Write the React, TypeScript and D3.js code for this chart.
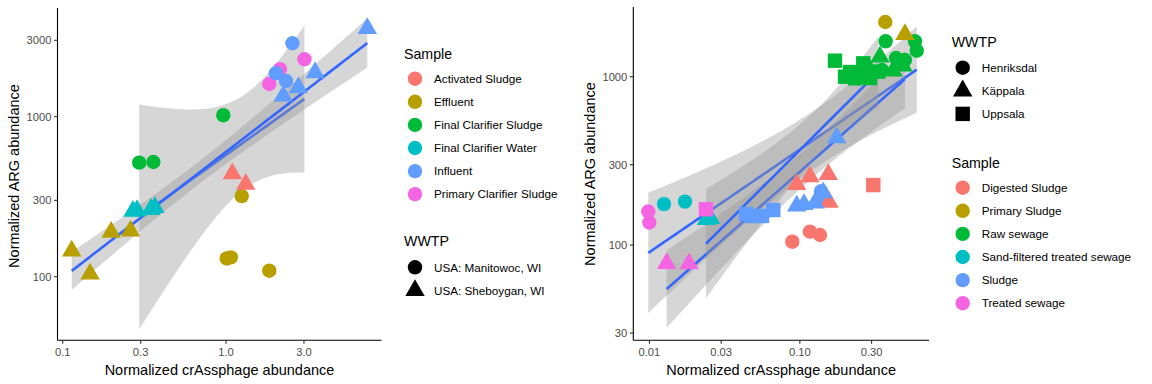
import React from "react";
import * as d3 from "d3";

const COLORS = ["#F8766D", "#B79F00", "#00BA38", "#00BFC4", "#619CFF", "#F564E3"];

// ---------- left panel data ----------
const leftSampleNames = [
  "Activated Sludge",
  "Effluent",
  "Final Clarifier Sludge",
  "Final Clarifier Water",
  "Influent",
  "Primary Clarifier Sludge",
];
const leftPlantNames = ["USA: Manitowoc, WI", "USA: Sheboygan, WI"];
const leftPlantShapes = ["circle", "triangle"];
// [sample, plant, crAssphage, ARG]
const leftPoints: [number, number, number, number][] = [
  [5, 0, 3.02, 2284],
  [5, 0, 2.14, 1978],
  [5, 0, 1.84, 1600],
  [4, 0, 2.55, 2875],
  [4, 0, 2.02, 1867],
  [4, 0, 2.33, 1672],
  [2, 0, 0.962, 1021],
  [2, 0, 0.294, 516],
  [2, 0, 0.359, 521],
  [1, 0, 1.248, 319],
  [1, 0, 1.01, 130],
  [1, 0, 1.07, 132],
  [1, 0, 1.84, 109],
  [4, 1, 7.33, 3564],
  [4, 1, 3.51, 1887],
  [4, 1, 2.77, 1520],
  [4, 1, 2.24, 1349],
  [0, 1, 1.093, 440],
  [0, 1, 1.32, 378],
  [3, 1, 0.269, 257],
  [3, 1, 0.285, 259],
  [3, 1, 0.347, 263],
  [3, 1, 0.367, 271],
  [1, 1, 0.1135, 145],
  [1, 1, 0.147, 104],
  [1, 1, 0.198, 190],
  [1, 1, 0.26, 193],
];
const leftXTicks = [0.1, 0.3, 1, 3];
const leftXTickLabels = ["0.1", "0.3", "1.0", "3.0"];
const leftYTicks = [100, 300, 1000, 3000];
const leftYTickLabels = ["100", "300", "1000", "3000"];
const leftXDomain = [Math.pow(10, -1.032), Math.pow(10, 0.952)];
const leftYDomain = [Math.pow(10, 1.6025), Math.pow(10, 3.679)];

// ---------- right panel data ----------
const rightSampleNames = [
  "Digested Sludge",
  "Primary Sludge",
  "Raw sewage",
  "Sand-filtered treated sewage",
  "Sludge",
  "Treated sewage",
];
const rightPlantNames = ["Henriksdal", "Käppala", "Uppsala"];
const rightPlantShapes = ["circle", "triangle", "square"];
const rightPoints: [number, number, number, number][] = [
  [1, 0, 0.37, 2113],
  [2, 0, 0.372, 1623],
  [2, 0, 0.583, 1623],
  [2, 0, 0.599, 1427],
  [2, 0, 0.436, 1291],
  [2, 0, 0.5, 1256],
  [2, 0, 0.284, 1010],
  [2, 0, 0.352, 1096],
  [3, 0, 0.0125, 175],
  [3, 0, 0.01724, 181],
  [5, 0, 0.00983, 158],
  [5, 0, 0.00998, 136],
  [0, 0, 0.0891, 104.6],
  [0, 0, 0.1168, 120],
  [0, 0, 0.1362, 114.7],
  [4, 0, 0.1383, 209],
  [4, 0, 0.1426, 190],
  [5, 1, 0.01302, 77.7],
  [5, 1, 0.01833, 77.4],
  [3, 1, 0.02395, 142],
  [3, 1, 0.02547, 143.8],
  [0, 1, 0.0953, 229],
  [0, 1, 0.1168, 254.6],
  [0, 1, 0.1546, 262.8],
  [0, 1, 0.1563, 180],
  [4, 1, 0.1758, 434],
  [4, 1, 0.0953, 170.5],
  [4, 1, 0.1066, 174],
  [4, 1, 0.1262, 178],
  [4, 1, 0.1432, 204.6],
  [2, 1, 0.341, 1309],
  [2, 1, 0.4164, 1081],
  [2, 1, 0.2927, 1096],
  [2, 1, 0.4853, 1158],
  [1, 1, 0.5, 1784],
  [5, 2, 0.02377, 163],
  [4, 2, 0.04386, 152.8],
  [4, 2, 0.04808, 148.7],
  [4, 2, 0.05604, 148.7],
  [4, 2, 0.06662, 161.4],
  [0, 2, 0.308, 227],
  [2, 2, 0.1713, 1245],
  [2, 2, 0.1997, 1000],
  [2, 2, 0.2327, 978],
  [2, 2, 0.2642, 1201],
  [2, 2, 0.2642, 1000],
  [2, 2, 0.3325, 1071],
  [2, 2, 0.2156, 1066],
  [2, 2, 0.2927, 982],
];
const rightXTicks = [0.01, 0.03, 0.1, 0.3];
const rightXTickLabels = ["0.01", "0.03", "0.10", "0.30"];
const rightYTicks = [30, 100, 300, 1000];
const rightYTickLabels = ["30", "100", "300", "1000"];
const rightXDomain = [Math.pow(10, -2.1072), Math.pow(10, -0.1412)];
const rightYDomain = [Math.pow(10, 1.4337), Math.pow(10, 3.4141)];

const FONT = "'Liberation Sans', Arial, Helvetica, sans-serif";
const PT_R = 7.2;

function tQuantile975(df: number) {
  const z = 1.959964;
  const g1 = (z ** 3 + z) / 4;
  const g2 = (5 * z ** 5 + 16 * z ** 3 + 3 * z) / 96;
  const g3 = (3 * z ** 7 + 19 * z ** 5 + 17 * z ** 3 - 15 * z) / 384;
  const g4 = (79 * z ** 9 + 776 * z ** 7 + 1482 * z ** 5 - 1920 * z ** 3 - 945 * z) / 92160;
  return z + g1 / df + g2 / df ** 2 + g3 / df ** 3 + g4 / df ** 4;
}

function fitGroup(pts: [number, number, number, number][]) {
  const xs = pts.map((p) => Math.log10(p[2]));
  const ys = pts.map((p) => Math.log10(p[3]));
  const n = xs.length;
  const xbar = d3.mean(xs)!;
  const ybar = d3.mean(ys)!;
  let sxx = 0, sxy = 0;
  xs.forEach((x, i) => {
    sxx += (x - xbar) ** 2;
    sxy += (x - xbar) * (ys[i] - ybar);
  });
  const b = sxy / sxx;
  const a = ybar - b * xbar;
  let sse = 0;
  xs.forEach((x, i) => (sse += (ys[i] - (a + b * x)) ** 2));
  const s = Math.sqrt(sse / (n - 2));
  const t = tQuantile975(n - 2);
  const [x0, x1] = d3.extent(xs) as [number, number];
  const out: { x: number; y: number; lo: number; hi: number }[] = [];
  for (let i = 0; i < 80; i++) {
    const lx = x0 + ((x1 - x0) * i) / 79;
    const yh = a + b * lx;
    const se = s * Math.sqrt(1 / n + (lx - xbar) ** 2 / sxx);
    out.push({ x: Math.pow(10, lx), y: Math.pow(10, yh), lo: Math.pow(10, yh - t * se), hi: Math.pow(10, yh + t * se) });
  }
  return out;
}

function Shape({ shape, x, y, r, fill }: { shape: string; x: number; y: number; r: number; fill: string }) {
  if (shape === "circle") return <circle cx={x} cy={y} r={r} fill={fill} />;
  if (shape === "triangle") {
    const d = `M${x},${y - 1.555 * r}L${x + 1.347 * r},${y + 0.7776 * r}L${x - 1.347 * r},${y + 0.7776 * r}Z`;
    return <path d={d} fill={fill} />;
  }
  return <rect x={x - r} y={y - r} width={2 * r} height={2 * r} fill={fill} />;
}

type PanelProps = {
  id: string;
  points: [number, number, number, number][];
  shapes: string[];
  nPlants: number;
  xDomain: number[];
  yDomain: number[];
  xRange: [number, number];
  yRange: [number, number];
  xTicks: number[];
  xTickLabels: string[];
  yTicks: number[];
  yTickLabels: string[];
  yTitleX: number;
  yTitleY: number;
};

function Panel(p: PanelProps) {
  const x = d3.scaleLog().domain(p.xDomain).range(p.xRange);
  const y = d3.scaleLog().domain(p.yDomain).range(p.yRange);
  const fits = d3.range(p.nPlants).map((g) => fitGroup(p.points.filter((q) => q[1] === g)));
  const area = d3
    .area<{ x: number; lo: number; hi: number }>()
    .x((d) => x(d.x))
    .y0((d) => y(d.lo))
    .y1((d) => y(d.hi));
  const line = d3
    .line<{ x: number; y: number }>()
    .x((d) => x(d.x))
    .y((d) => y(d.y));
  const [xl, xr] = p.xRange;
  const [yb, yt] = p.yRange;
  return (
    <g>
      <defs>
        <clipPath id={p.id}>
          <rect x={xl} y={yt} width={xr - xl} height={yb - yt} />
        </clipPath>
      </defs>
      <g clipPath={`url(#${p.id})`}>
        {fits.map((f, i) => (
          <g key={i}>
            <path d={area(f)!} fill="#999999" fillOpacity={0.4} />
            <path d={line(f)!} fill="none" stroke="#3366FF" strokeWidth={2.6} />
          </g>
        ))}
        {p.points.map((q, i) => (
          <Shape key={i} shape={p.shapes[q[1]]} x={x(q[2])} y={y(q[3])} r={PT_R} fill={COLORS[q[0]]} />
        ))}
      </g>
      {/* axes */}
      <line x1={xl} x2={xr} y1={yb} y2={yb} stroke="#000" strokeWidth={1.1} />
      <line x1={xl} x2={xl} y1={yt} y2={yb} stroke="#000" strokeWidth={1.1} />
      {p.xTicks.map((t, i) => (
        <g key={i}>
          <line x1={x(t)} x2={x(t)} y1={yb} y2={yb + 3.5} stroke="#333" strokeWidth={1.1} />
          <text x={x(t)} y={yb + 15.5} textAnchor="middle" fontSize={11.2} fill="#4D4D4D" fontFamily={FONT}>
            {p.xTickLabels[i]}
          </text>
        </g>
      ))}
      {p.yTicks.map((t, i) => (
        <g key={i}>
          <line x1={xl - 3.5} x2={xl} y1={y(t)} y2={y(t)} stroke="#333" strokeWidth={1.1} />
          <text x={xl - 6} y={y(t) + 4} textAnchor="end" fontSize={11.2} fill="#4D4D4D" fontFamily={FONT}>
            {p.yTickLabels[i]}
          </text>
        </g>
      ))}
      <text x={(xl + xr) / 2} y={375} textAnchor="middle" fontSize={14.5} fill="#000" fontFamily={FONT}>
        Normalized crAssphage abundance
      </text>
      <text
        transform={`translate(${p.yTitleX},${p.yTitleY}) rotate(-90)`}
        textAnchor="middle"
        fontSize={14.5}
        fill="#000"
        fontFamily={FONT}
      >
        Normalized ARG abundance
      </text>
    </g>
  );
}

function Legend({
  x,
  title,
  titleY,
  firstY,
  labels,
  colors,
  shapes,
}: {
  x: number;
  title: string;
  titleY: number;
  firstY: number;
  labels: string[];
  colors: string[];
  shapes: string[];
}) {
  return (
    <g>
      <text x={x} y={titleY} fontSize={14.2} fill="#000" fontFamily={FONT}>
        {title}
      </text>
      {labels.map((l, i) => {
        const cy = firstY + i * 23.1;
        return (
          <g key={i}>
            <Shape shape={shapes[i]} x={x + 11} y={cy} r={PT_R} fill={colors[i]} />
            <text x={x + 30} y={cy + 4.2} fontSize={11.7} fill="#000" fontFamily={FONT}>
              {l}
            </text>
          </g>
        );
      })}
    </g>
  );
}

export default function App() {
  return (
    <svg
      width={1152}
      height={384}
      style={{ position: "absolute", left: 0, top: 0, background: "#fff" }}
    >
      <rect width={1152} height={384} fill="#fff" />
      <Panel
        id="clipL"
        points={leftPoints}
        shapes={leftPlantShapes}
        nPlants={2}
        xDomain={leftXDomain}
        yDomain={leftYDomain}
        xRange={[57.5, 381.5]}
        yRange={[340.3, 8]}
        xTicks={leftXTicks}
        xTickLabels={leftXTickLabels}
        yTicks={leftYTicks}
        yTickLabels={leftYTickLabels}
        yTitleX={19}
        yTitleY={176}
      />
      <Panel
        id="clipR"
        points={rightPoints}
        shapes={rightPlantShapes}
        nPlants={3}
        xDomain={rightXDomain}
        yDomain={rightYDomain}
        xRange={[633.3, 929]}
        yRange={[340.3, 7]}
        xTicks={rightXTicks}
        xTickLabels={rightXTickLabels}
        yTicks={rightYTicks}
        yTickLabels={rightYTickLabels}
        yTitleX={595}
        yTitleY={174}
      />
      <Legend
        x={404}
        title="Sample"
        titleY={59}
        firstY={78.7}
        labels={leftSampleNames}
        colors={COLORS}
        shapes={leftSampleNames.map(() => "circle")}
      />
      <Legend
        x={404}
        title="WWTP"
        titleY={246}
        firstY={267.3}
        labels={leftPlantNames}
        colors={leftPlantNames.map(() => "#000")}
        shapes={leftPlantShapes}
      />
      <Legend
        x={951.7}
        title="WWTP"
        titleY={46.5}
        firstY={67.7}
        labels={rightPlantNames}
        colors={rightPlantNames.map(() => "#000")}
        shapes={rightPlantShapes}
      />
      <Legend
        x={951.7}
        title="Sample"
        titleY={167.5}
        firstY={187.7}
        labels={rightSampleNames}
        colors={COLORS}
        shapes={rightSampleNames.map(() => "circle")}
      />
    </svg>
  );
}
